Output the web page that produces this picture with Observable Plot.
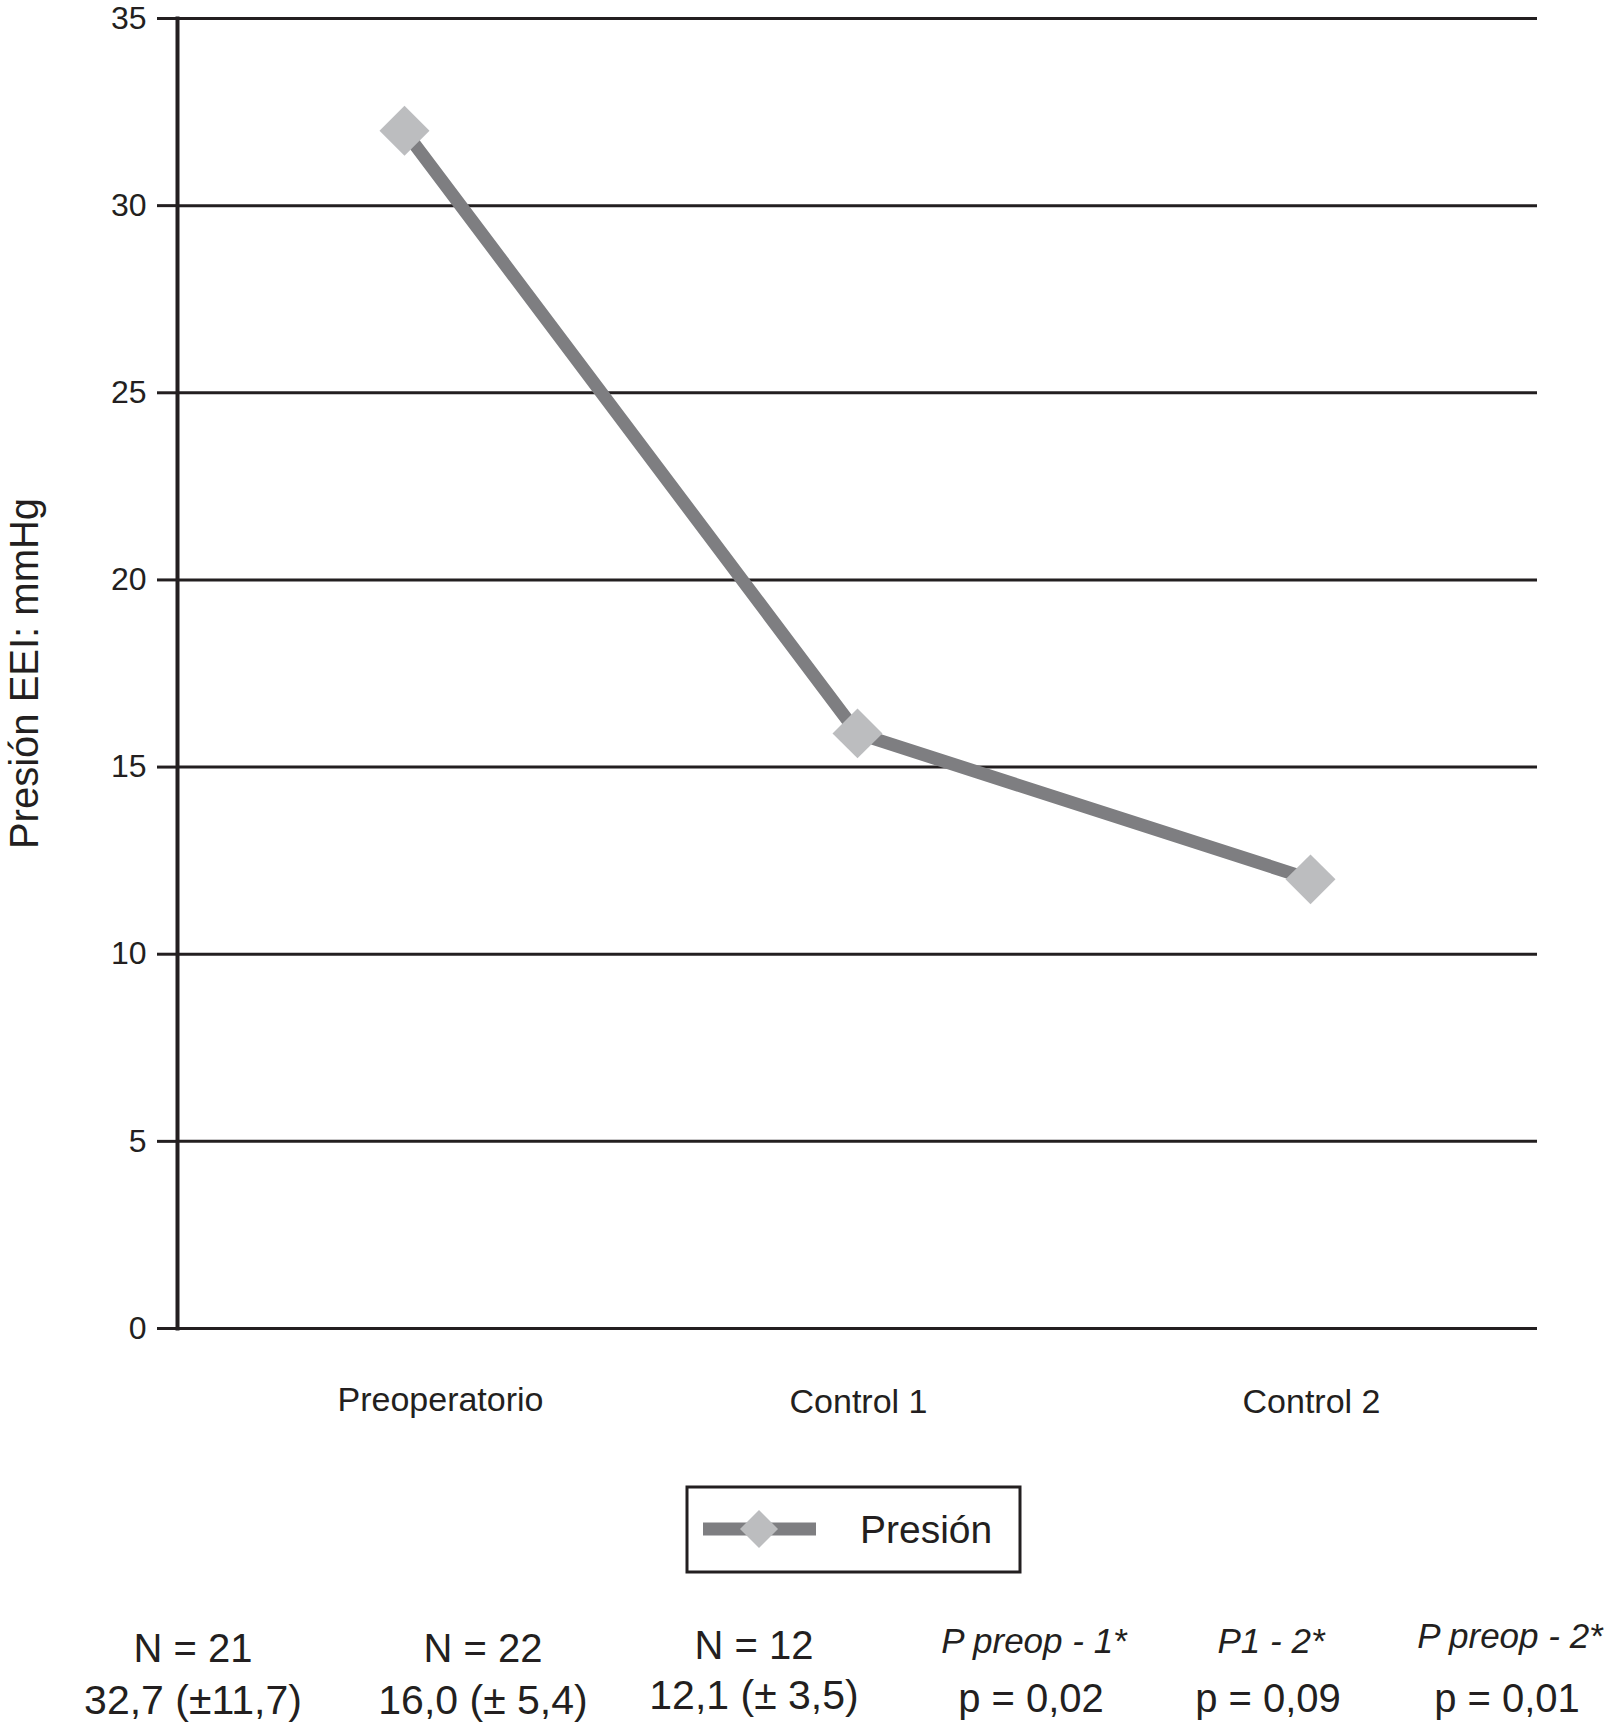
<!DOCTYPE html>
<html>
<head>
<meta charset="utf-8">
<script src="https://cdn.jsdelivr.net/npm/d3@7"></script>
<script src="https://cdn.jsdelivr.net/npm/@observablehq/plot@0.6"></script>
<style>
  html, body { margin: 0; padding: 0; background: #fff; }
  body { width: 1607px; font-family: "Liberation Sans", Arial, Helvetica, sans-serif; color: #231f20; }
  #chart svg, #below svg { display: block; }
</style>
</head>
<body>
<div id="chart"></div>
<div id="below"></div>
<script>
// ---- data ----
const categories = ["Preoperatorio", "Control 1", "Control 2"];
const presion = [32.0, 15.9, 12.0];
const yTicks = [0, 5, 10, 15, 20, 25, 30, 35];
const yLabel = "Presión EEI: mmHg";
const seriesName = "Presión";
const nLabels = ["N = 21", "N = 22", "N = 12"];
const meanLabels = ["32,7 (±11,7)", "16,0 (± 5,4)", "12,1 (± 3,5)"];
const pTestLabels = ["P preop - 1*", "P1 - 2*", "P preop - 2*"];
const pValues = ["p = 0,02", "p = 0,09", "p = 0,01"];

const data = categories.map((c, i) => ({ cat: categories[i], value: presion[i] }));

const INK = "#231f20";
const LINE = "#7e7e81";
const MARK = "#bcbdbf";
const FONT = '"Liberation Sans", Arial, Helvetica, sans-serif';

const plot = Plot.plot({
  width: 1607,
  height: 1440,
  marginLeft: 177,
  marginRight: 70,
  marginTop: 18,
  marginBottom: 112,
  style: { fontFamily: FONT, fontSize: "32px", color: INK, background: "#fff" },
  x: { type: "point", domain: categories, padding: 0.5, axis: null },
  y: { domain: [0, 35], axis: null },
  marks: [
    Plot.gridY(yTicks, { stroke: INK, strokeOpacity: 1, strokeWidth: 3 }),
    Plot.axisY(yTicks, { tickSize: 20, tickPadding: 11, stroke: INK, strokeWidth: 3, fontSize: 32, label: null }),
    Plot.frame({ anchor: "left", stroke: INK, strokeWidth: 4 }),
    Plot.axisX(categories.slice(0, 1), { tickSize: 0, tickPadding: 58, dx: 36, fontSize: 34, label: null }),
    Plot.axisX(categories.slice(1), { tickSize: 0, tickPadding: 60, dx: 1, fontSize: 34, label: null }),
    Plot.text([yLabel], { frameAnchor: "left", textAnchor: "middle", rotate: -90, dx: -140, lineAnchor: "bottom", fontSize: 40, fill: INK }),
    Plot.line(data, { x: "cat", y: "value", stroke: LINE, strokeWidth: 13 }),
    Plot.dot(data, { x: "cat", y: "value", symbol: "diamond2", r: 22.5, fill: MARK, stroke: "none" })
  ]
});
document.getElementById("chart").appendChild(plot);

// ---- legend and statistics below the plot ----
const below = d3.create("svg")
  .attr("width", 1607)
  .attr("height", 285)
  .style("font-family", FONT)
  .style("background", "#fff");

// legend box
const lg = below.append("g");
lg.append("rect").attr("x", 687).attr("y", 47).attr("width", 333).attr("height", 85)
  .attr("fill", "none").attr("stroke", INK).attr("stroke-width", 3);
lg.append("line").attr("x1", 703).attr("x2", 816).attr("y1", 89).attr("y2", 89)
  .attr("stroke", LINE).attr("stroke-width", 13);
lg.append("path").attr("d", "M759,70L778,89L759,108L740,89Z").attr("fill", MARK);
lg.append("text").attr("x", 860).attr("y", 103).attr("font-size", 39).attr("fill", INK).text(seriesName);

// statistics
const centers = [193, 483, 754];
const pCenters = [1034, 1271, 1510];
nLabels.forEach((t, i) => {
  below.append("text").attr("x", centers[i]).attr("y", i === 2 ? 219 : 222)
    .attr("text-anchor", "middle").attr("font-size", 40).attr("fill", INK).text(t);
});
meanLabels.forEach((t, i) => {
  below.append("text").attr("x", centers[i]).attr("y", i === 2 ? 269 : 274)
    .attr("text-anchor", "middle").attr("font-size", 41).attr("fill", INK).text(t);
});
pTestLabels.forEach((t, i) => {
  below.append("text").attr("x", pCenters[i]).attr("y", i === 2 ? 208 : 213)
    .attr("text-anchor", "middle").attr("font-size", 35).attr("font-style", "italic").attr("fill", INK).text(t);
});
pValues.forEach((t, i) => {
  below.append("text").attr("x", pCenters[i] - 3).attr("y", 272)
    .attr("text-anchor", "middle").attr("font-size", 40).attr("fill", INK).text(t);
});
document.getElementById("below").appendChild(below.node());
</script>
</body>
</html>
